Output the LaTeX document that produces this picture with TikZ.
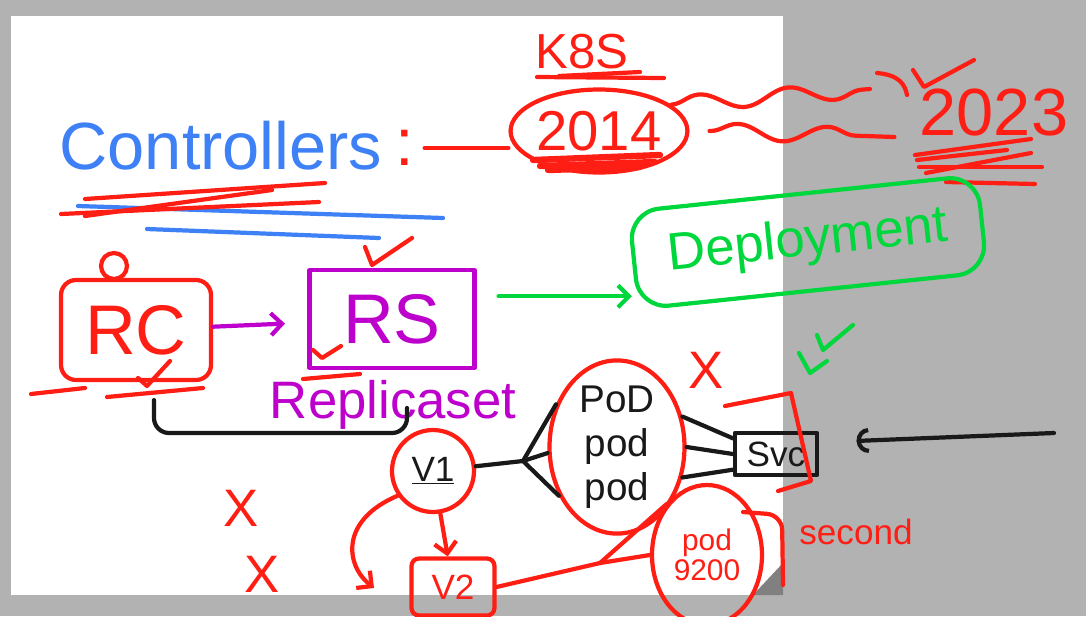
\documentclass[tikz,border=0pt]{standalone}
\usepackage{fontspec}
\setmainfont{Liberation Sans}
\usepackage{tikz}
\usetikzlibrary{arrows.meta,shapes.geometric,positioning,calc,decorations.pathmorphing}
\definecolor{inkred}{RGB}{255,30,20}
\definecolor{inkblue}{RGB}{62,128,245}
\definecolor{inkgreen}{RGB}{0,215,60}
\definecolor{inkpurple}{RGB}{190,0,205}
\definecolor{inkblack}{RGB}{25,25,25}
\definecolor{deskgray}{RGB}{178,178,178}

\begin{document}
\begin{tikzpicture}[x=0.02cm,y=-0.02cm,line cap=round,line join=round,
  ink/.style={line width=2.4pt},
  redink/.style={ink,draw=inkred},
  blueink/.style={ink,draw=inkblue},
  greenink/.style={ink,draw=inkgreen},
  purpleink/.style={ink,draw=inkpurple},
  blackink/.style={ink,draw=inkblack},
  barb/.style={-{Straight Barb[length=2.2mm,width=4.4mm]}},
  txt/.style={font=\fontsize{#1}{#1}\selectfont,inner sep=0pt},
  wave/.style={decorate,decoration={snake,segment length=1.8cm,amplitude=1.6mm}}]
\useasboundingbox (0,0) rectangle (1086,616);
\clip (0,0) rectangle (1086,616);
% Desk and page
\fill[deskgray] (0,0) rectangle (1086,616);
\fill[white] (11,16) rectangle (783,595);
\fill[black!50] (783,563) -- (783,595) -- (753,595) -- cycle;

% Title
\node[txt=38,text=inkblue] (ctrl) at (221,146) {Controllers};
\node[txt=38,text=inkred] (colon) at (405,148) {:};
\foreach \xa/\ya/\xb/\yb in {78/206/443/218,147/229/379/238}
  \draw[blueink] (\xa,\ya) -- (\xb,\yb);
\foreach \xa/\ya/\xb/\yb in {85/199/325/183,272/190/85/216,61/214/319/202}
  \draw[redink] (\xa,\ya) -- (\xb,\yb);

% Timeline
\node[txt=28,text=inkred] (kes) at (582,52) {K8S};
\node[ellipse,redink,txt=32,text=inkred,minimum width=3.16cm,minimum height=1.66cm] (yrold) at (599,131) {2014};
\node[txt=38,text=inkred] (yrnew) at (994,113) {2023};
\coordinate (wavetop) at (870,89);
\draw[redink,shorten <=2mm] (colon.east) -- (colon.east -| yrold.west);
\draw[redink,wave] (yrold.20) -- (wavetop);
\draw[redink,wave] ([xshift=4mm]yrold.east) -- ([xshift=-5mm]yrnew.south west);
\draw[redink] (877,73) .. controls (900,75) and (905,85) .. (907,95);
\foreach \xa/\ya/\xb/\yb in {559/76/640/72,537/77/664/78,
  915/155/1031/139,917/160/1007/150,919/167/1042/167,926/173/1031/153,946/182/1035/184}
  \draw[redink] (\xa,\ya) -- (\xb,\yb);
\foreach \xa/\ya/\xb/\yb in {533/160/660/155,540/166/655/162,548/170/640/167}
  \draw[redink,line width=3.6pt] (\xa,\ya) -- (\xb,\yb);

% Controllers
\node[redink,rounded corners=3mm,txt=40,text=inkred,minimum width=3cm,minimum height=2cm] (rc) at (136,330) {RC};
\node[circle,redink,minimum size=0.52cm,inner sep=0pt] (rcmark) at (114,266) {};
\node[purpleink,txt=40,text=inkpurple,minimum width=3.3cm,minimum height=1.96cm] (rs) at (392,319) {RS};
\node[txt=30,text=inkpurple] (rsname) at (393,405) {Replicaset};
\node[greenink,rotate=6,rounded corners=6mm,txt=30,text=inkgreen,minimum width=7cm,minimum height=1.95cm] (deploy) at (808,242) {Deployment};
\draw[purpleink,barb,shorten >=4.5mm] (rc) -- (rs);
\draw[greenink,barb,shorten <=4.4mm] (rs.15) -- (rs.15 -| deploy.west);
\draw[blackink,rounded corners=3mm] ([shift={(18,18)}]rc.south) |- ([shift={(14,28)}]rsname.center) -- ([shift={(14,3)}]rsname.center);
\foreach \xa/\ya/\xb/\yb in {31/394/85/388,107/397/203/388,303/379/360/374}
  \draw[redink] (\xa,\ya) -- (\xb,\yb);
% Ticks
\foreach \xa/\ya/\xb/\yb/\xc/\yc in {365/247/372/265/412/238,138/378/147/386/170/361,
  313/350/322/358/341/346,913/70/924/87/974/60}
  \draw[redink] (\xa,\ya) -- (\xb,\yb) -- (\xc,\yc);
\foreach \xa/\ya/\xb/\yb/\xc/\yc in {817/335/823/350/853/325,799/353/810/373/827/361}
  \draw[greenink] (\xa,\ya) -- (\xb,\yb) -- (\xc,\yc);

% Versions, pods and service
\node[circle,redink,txt=20,text=inkblack,minimum size=1.64cm] (vone) at (433,471) {\underline{V1}};
\node[ellipse,redink,txt=22,text=inkblack,align=center,minimum width=2.7cm,minimum height=3.14cm] (pods) at (617,447) {PoD\\[3pt]pod\\[3pt]pod};
\node[blackink,txt=20,text=inkblack,minimum width=1.64cm,minimum height=0.84cm] (svc) at (776,454) {Svc};
\node[redink,rounded corners=1.5mm,txt=20,text=inkred,minimum width=1.66cm,minimum height=1.14cm] (vtwo) at (453,587) {V2};
\node[ellipse,redink,txt=17,text=inkred,align=center,minimum width=2.2cm,minimum height=2.8cm] (podport) at (707,555) {pod\\9200};
\node[txt=20,text=inkred] (second) at (856,532) {second};
\foreach \p/\n in {(241,508)/xa,(262,574)/xb,(706,370)/xc}
  \node[txt=30,text=inkred] (\n) at \p {X};
\coordinate (fork) at (523,461);
\coordinate (fork2) at (600,563);
\coordinate (vback) at (374,588);
\coordinate (user) at (1054,433);
\draw[blackink] (vone) -- (fork);
\foreach \a in {145,185,220}
  \draw[blackink] (fork) -- (pods.\a);
\foreach \a/\b in {25/160,0/180,-25/200}
  \draw[blackink] (pods.\a) -- (svc.\b);
\draw[blackink,-{Arc Barb[length=2.4mm,width=5mm]},shorten >=7.5mm] (user) -- (svc.15);
\draw[redink] (725,406) -- (791,393) -- (811,481) -- (778,491);
\draw[redink,barb] (vone) -- (vtwo);
\draw[redink,barb] (vone.215) .. controls (340,520) and (345,565) .. (vback);
\draw[redink] (vtwo.east) -- (fork2);
\draw[redink] (fork2) -- (podport.west);
\draw[redink] (fork2) -- (podport.north west);
\draw[redink,rounded corners=3mm] (743,512) -- (782,515) -- (783,585);
\end{tikzpicture}
\end{document}
